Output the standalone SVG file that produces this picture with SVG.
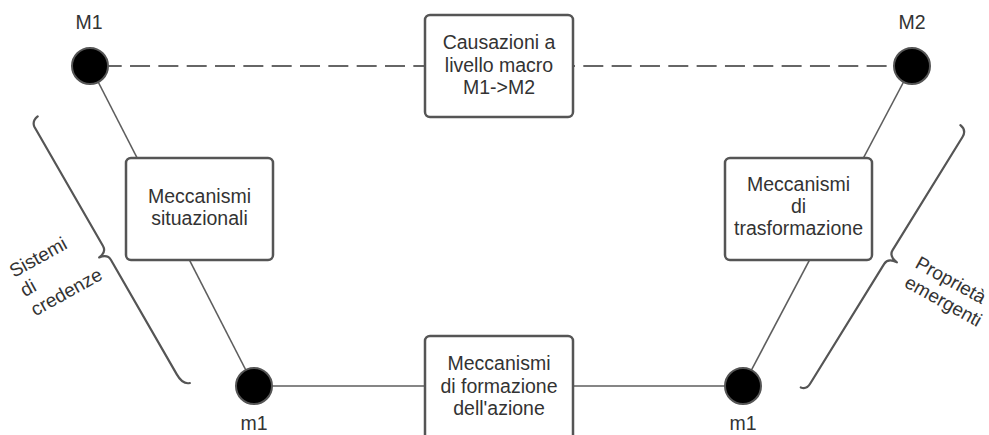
<svg xmlns="http://www.w3.org/2000/svg" width="989" height="435" viewBox="0 0 989 435">
<style>
  text { font-family: "Liberation Sans", Arial, sans-serif; fill: #333; }
  .box { fill: #fff; stroke: #555; stroke-width: 2.5; }
  .bt { font-size: 19.5px; text-anchor: middle; }
  .lbl { font-size: 19.5px; text-anchor: middle; }
  .side { font-size: 19px; }
  .conn { stroke: #5e5e5e; stroke-width: 1.6; fill: none; }
  .dash { stroke: #666; stroke-width: 2; stroke-dasharray: 20 8.33; fill: none; }
  .dot { fill: #000; stroke: #555; stroke-width: 2; }
  .brace { fill: none; stroke: #555; stroke-width: 2.2; stroke-linecap: round; stroke-linejoin: round; }
</style>
<rect width="989" height="435" fill="#fff"/>
<g id="connectors">
  <line class="dash" x1="101.7" y1="66" x2="900" y2="66"/>
  <line class="conn" x1="90" y1="66" x2="254" y2="386"/>
  <line class="conn" x1="912" y1="66" x2="743" y2="386"/>
  <line class="conn" x1="254" y1="386" x2="743" y2="386"/>
</g>
<g id="braces">
  <path class="brace" transform="translate(107,253) rotate(60.1)" d="M -153,-8 Q -152,-1 -146,0 L -8,0 Q -1,0 0,9 Q 1,0 8,0 L 140,0 Q 152,0 154,-7"/>
  <path class="brace" transform="translate(888.4,257) rotate(-58.3)" d="M -157,-6 Q -156,0 -149,0 L -8,0 Q -1,0 0,10 Q 1,0 8,0 L 141,0 Q 149,0 150,-8"/>
</g>
<g id="node-M1">
  <circle class="dot" cx="90" cy="66" r="18"/>
  <text class="lbl" x="89" y="28.5">M1</text>
</g>
<g id="node-M2">
  <circle class="dot" cx="912" cy="66" r="18"/>
  <text class="lbl" x="912" y="28.5">M2</text>
</g>
<g id="node-m1-left">
  <circle class="dot" cx="254" cy="386" r="18"/>
  <text class="lbl" x="254" y="430">m1</text>
</g>
<g id="node-m1-right">
  <circle class="dot" cx="743" cy="386" r="18"/>
  <text class="lbl" x="743" y="430">m1</text>
</g>
<g id="node-macro">
  <rect class="box" x="425" y="15" width="148" height="102" rx="5"/>
  <text class="bt" x="499" y="49">Causazioni a</text>
  <text class="bt" x="499" y="71.5">livello macro</text>
  <text class="bt" x="499" y="94">M1-&gt;M2</text>
</g>
<g id="node-situazionali">
  <rect class="box" x="126" y="158" width="147" height="102" rx="5"/>
  <text class="bt" x="199.5" y="203">Meccanismi</text>
  <text class="bt" x="199.5" y="224.5">situazionali</text>
</g>
<g id="node-trasformazione">
  <rect class="box" x="725" y="158" width="147" height="102" rx="5"/>
  <text class="bt" x="798.5" y="191">Meccanismi</text>
  <text class="bt" x="798.5" y="213">di</text>
  <text class="bt" x="798.5" y="235">trasformazione</text>
</g>
<g id="node-formazione">
  <rect class="box" x="425" y="336" width="148" height="110" rx="5"/>
  <text class="bt" x="499" y="370">Meccanismi</text>
  <text class="bt" x="499" y="393">di formazione</text>
  <text class="bt" x="499" y="415">dell'azione</text>
</g>
<g id="label-sistemi" transform="translate(14,278) rotate(-29)">
  <text class="side" x="0" y="0">Sistemi</text>
  <text class="side" x="0" y="22">di</text>
  <text class="side" x="0" y="44">credenze</text>
</g>
<g id="label-proprieta" transform="translate(914,267) rotate(29)">
  <text class="side" x="0" y="0">Proprietà</text>
  <text class="side" x="0" y="22">emergenti</text>
</g>
</svg>
